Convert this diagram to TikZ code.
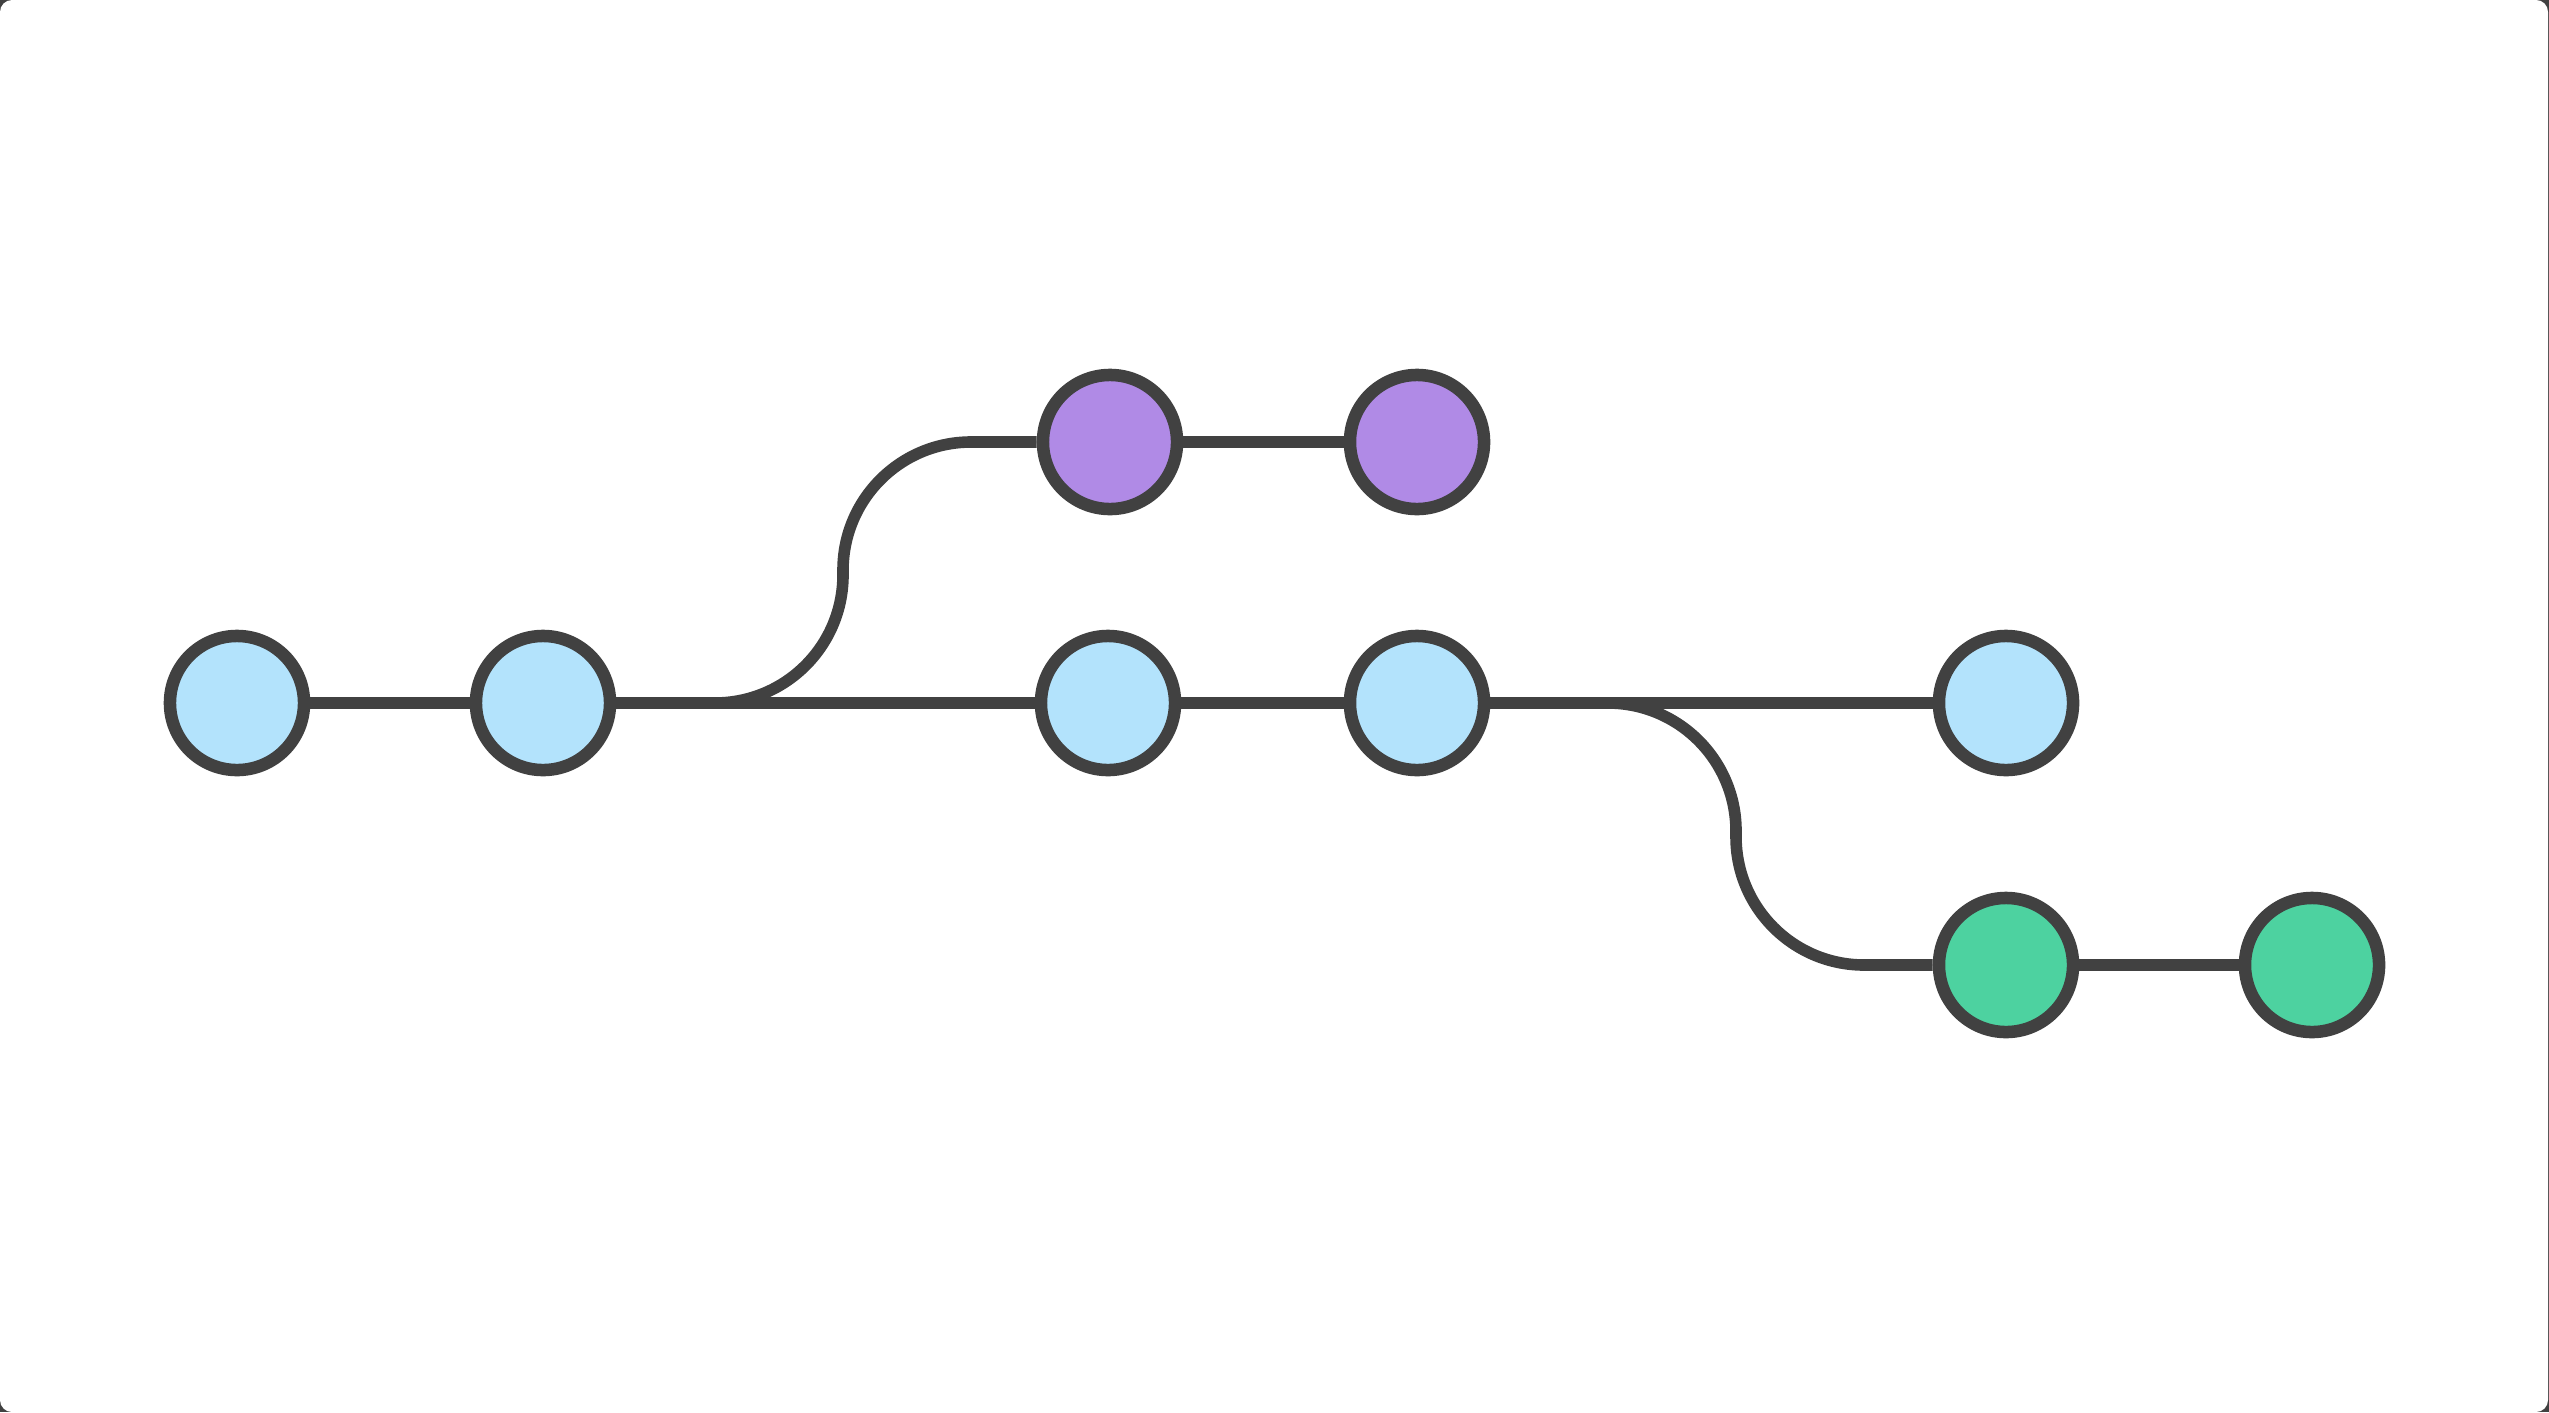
\documentclass[tikz,border=0pt]{standalone}
\usetikzlibrary{shapes.geometric, arrows}
\definecolor{edge}{HTML}{414141}
\definecolor{mainfill}{HTML}{B3E3FC}
\definecolor{featfill}{HTML}{B08AE6}
\definecolor{fixfill}{HTML}{4DD2A0}
\tikzstyle{commit} = [circle, minimum size=1.34cm, inner sep=0pt, line width=3.56pt, draw=edge, fill=mainfill]
\tikzstyle{link} = [line width=3.56pt, draw=edge]
\tikzstyle{branch} = [link, line width=3.3pt, rounded corners=1.28cm]

\begin{document}
\begin{tikzpicture}[x=0.01cm, y=-0.01cm]

% Frame
\fill [edge] (0,0) rectangle (2549,1412);
\fill [white, rounded corners=0.12cm] (0,0) rectangle (2548,1412);
\useasboundingbox (0,0) rectangle (2549,1412);

% Main branch
\node (M1) [commit] at (237,703) {};
\node (M2) [commit] at (543,703) {};
\node (M3) [commit] at (1108,703) {};
\node (M4) [commit] at (1417,703) {};
\node (M5) [commit] at (2006,703) {};

% Upper branch
\node (P1) [commit, fill=featfill] at (1110,442) {};
\node (P2) [commit, fill=featfill] at (1417,442) {};

% Lower branch
\node (G1) [commit, fill=fixfill] at (2006,965) {};
\node (G2) [commit, fill=fixfill] at (2312,965) {};

% Fork points
\coordinate (F1) at (715,703);
\coordinate (F2) at (1608,703);

% Connecting lines
\draw [link] (M1) -- (M2);
\draw [link] (M2) -- (M3);
\draw [link] (M3) -- (M4);
\draw [link] (M4) -- (M5);

\draw [branch] (F1) -- (843,703) |- (P1);
\draw [link] (P1) -- (P2);

\draw [branch] (F2) -- (1736,703) |- (G1);
\draw [link] (G1) -- (G2);

\end{tikzpicture}
\end{document}
